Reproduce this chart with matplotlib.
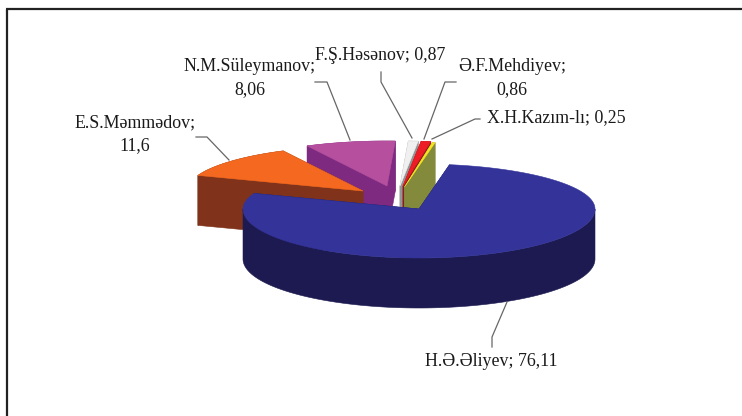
import numpy as np
import matplotlib
matplotlib.use("Agg")
import matplotlib.pyplot as plt
from matplotlib.patches import Polygon

names = ["H.Ə.Əliyev", "E.S.Məmmədov", "N.M.Süleymanov", "F.Ş.Həsənov", "Ə.F.Mehdiyev", "X.H.Kazım-lı"]
values = [76.11, 11.6, 8.06, 0.87, 0.86, 0.25]
top_colors = ["#333399", "#f4691f", "#b54f9e", "#f0f0f0", "#ee1c25", "#f5e61e"]
side_colors = ["#1c1a50", "#80331a", "#7d2a80", "#949494", "#8e1a1c", "#848a3c"]

# pixel-based layout, y goes down
start_angle = 80
rx = 176
ry_back = 45
ry_front = 49
depth = 50
centers = [(419, 209), (363, 191), (387, 186), (400, 186), (403, 186), (404.5, 187)]
draw_order = [2, 3, 4, 5, 1, 0]

plt.rcParams["font.family"] = ["Liberation Serif", "DejaVu Serif"]
fig = plt.figure(figsize=(7.42, 4.16), dpi=100)
ax = fig.add_axes([0, 0, 1, 1])
ax.set_xlim(0, 742)
ax.set_ylim(416, 0)
ax.axis("off")

# frame
ax.plot([6.5, 6.5], [416, 9], color="#222222", lw=1.6, solid_capstyle="butt")
ax.plot([6, 742], [9, 9], color="#222222", lw=1.6, solid_capstyle="butt")


def arc(i, t0, t1):
    t = np.radians(np.linspace(t0, t1, 160))
    cx, cy = centers[i]
    s = np.sin(t)
    return np.column_stack([cx + rx * np.cos(t), cy - np.where(s > 0, ry_back, ry_front) * s])


sweeps = np.array(values) / sum(values) * 360
ends = start_angle - np.cumsum(sweeps)
starts = ends + sweeps

for i in draw_order:
    cx, cy = centers[i]
    edge = arc(i, starts[i], ends[i])
    down = np.array([0, depth])
    apex = np.array([[cx, cy]])
    # cut faces
    for p in (edge[0], edge[-1]):
        face = np.array([apex[0], p, p + down, apex[0] + down])
        ax.add_patch(Polygon(face, fc=side_colors[i], ec=side_colors[i], lw=0.4))
    # outer rim, only the lower half of the ellipse shows
    rim = arc(i, 180, 360) if i == 0 else edge
    ax.add_patch(Polygon(np.vstack([rim, (rim + down)[::-1]]), fc=side_colors[i], ec=side_colors[i], lw=0.4))
    ax.add_patch(Polygon(np.vstack([apex, edge]), fc=top_colors[i], ec=top_colors[i], lw=0.4))

# leaders
leaders = [
    [(507, 302), (492, 337), (492, 347)],
    [(196, 137), (207, 137), (229, 160)],
    [(315, 82), (327, 82), (350, 140)],
    [(381, 72), (381, 82), (412, 138)],
    [(456, 82), (445, 82), (424, 139)],
    [(480, 119), (475, 119), (432, 139)],
]
for pts in leaders:
    xs, ys = zip(*pts)
    ax.plot(xs, ys, color="#666666", lw=0.9)

# data labels
fs = 12.9
labels = [
    (491, 362, f"{names[0]}; 76,11"),
    (135, 134, f"{names[1]};\n11,6"),
    (250, 78, f"{names[2]};\n8,06"),
    (380, 55, f"{names[3]}; 0,87"),
    (512, 78, f"{names[4]};\n0,86"),
    (556, 118, f"{names[5]}; 0,25"),
]
for x, y, s in labels:
    ax.text(x, y, s, ha="center", va="center", fontsize=fs, color="#1a1a1a", linespacing=1.45)

fig.savefig("out.png", dpi=100)
